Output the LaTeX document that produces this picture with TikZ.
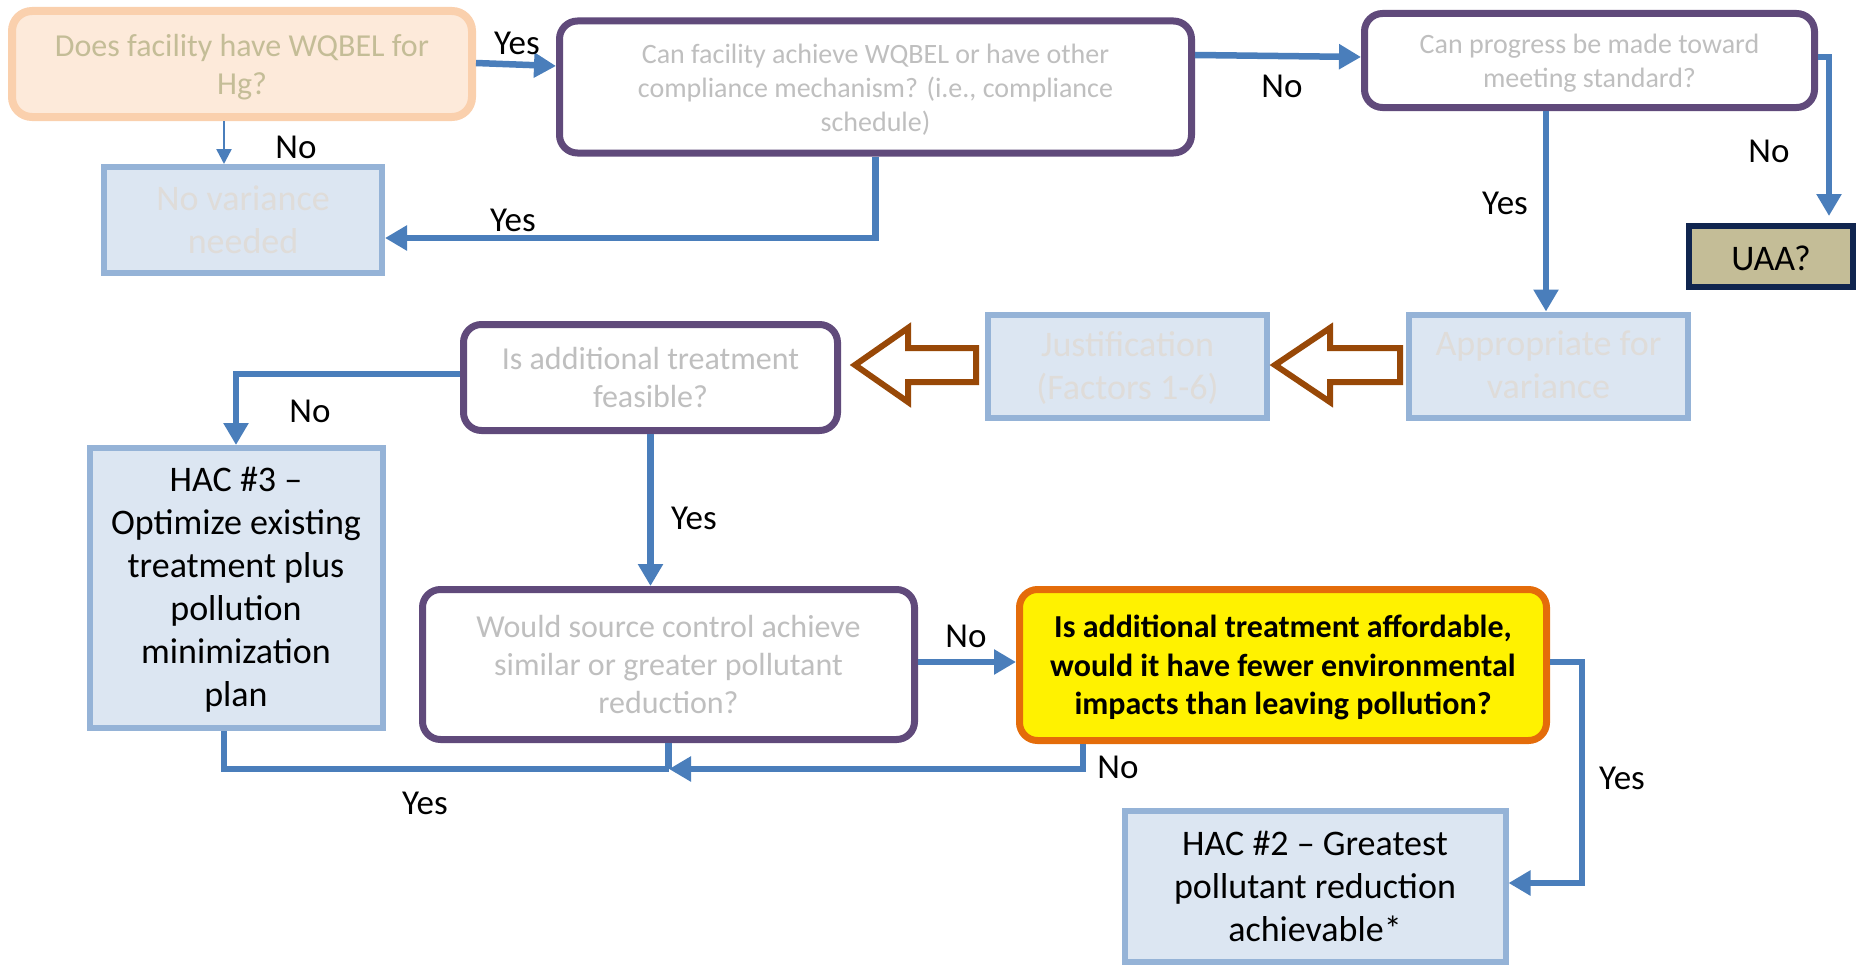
\documentclass[tikz,border=0pt]{standalone}
\usepackage{fontspec}
\setmainfont{Carlito}
\usetikzlibrary{arrows.meta}
\definecolor{cblue}{HTML}{4A7EBB}
\definecolor{qpurple}{HTML}{604A7B}
\definecolor{qgray}{HTML}{BFBFBF}
\definecolor{afill}{HTML}{FDEADA}
\definecolor{adraw}{HTML}{FAD0AD}
\definecolor{atext}{HTML}{C4BD97}
\definecolor{bfill}{HTML}{DCE6F2}
\definecolor{bdraw}{HTML}{95B3D7}
\definecolor{btext}{HTML}{DFDCD9}
\definecolor{ydraw}{HTML}{E46C0A}
\definecolor{udraw}{HTML}{10254F}
\definecolor{hbrown}{HTML}{984807}
\newcommand\mylow[2]{\raisebox{-#1}[\height][\depth]{\begin{tabular}{@{}c@{}}#2\end{tabular}}}
\tikzset{
  q/.style={draw=qpurple, line width=7pt, rounded corners=18pt, fill=white, text=qgray,
    align=center, inner sep=0pt, font=\fontsize{28}{34}\selectfont},
  qb/.style={q, font=\fontsize{32}{38}\selectfont},
  qa/.style={draw=adraw, line width=8pt, rounded corners=20pt, fill=afill, text=atext,
    align=center, inner sep=0pt, font=\fontsize{32}{38}\selectfont},
  bb/.style={draw=bdraw, line width=6pt, fill=bfill, align=center, inner sep=0pt,
    font=\fontsize{36}{43}\selectfont},
  bfaint/.style={bb, text=btext},
  ybox/.style={draw=ydraw, line width=7pt, rounded corners=18pt, fill=yellow, text=black,
    align=center, inner sep=0pt, font=\fontsize{32}{38.5}\selectfont\bfseries},
  uaa/.style={draw=udraw, line width=6pt, fill=atext, text=black, inner sep=0pt,
    font=\fontsize{36}{43}\selectfont},
  conn/.style={draw=cblue, line width=6.5pt, -{Triangle[length=22pt,width=24pt]}},
  thinconn/.style={draw=cblue, line width=2.5pt, -{Triangle[length=15pt,width=15pt]}},
  plainline/.style={draw=cblue, line width=6.5pt},
  lbl/.style={font=\fontsize{35}{42}\selectfont, text=black, inner sep=0pt},
  harrow/.style={draw=hbrown, fill=white, line width=6pt, line join=miter},
}
\begin{document}
\begin{tikzpicture}[x=1pt,y=-1pt]
\useasboundingbox (0,0) rectangle (1856,966);
% nodes
\node[qa, minimum width=460pt, minimum height=106pt] (A) at (242,64) {\mylow{3.5pt}{Does facility have WQBEL for\\Hg?}};
\node[q, minimum width=632pt, minimum height=132pt] (B) at (875.5,87) {\mylow{3.5pt}{Can facility achieve WQBEL or have other\\compliance mechanism? (i.e., compliance\\schedule)}};
\node[q, minimum width=450pt, minimum height=94pt] (C) at (1589.5,60.5) {\mylow{3pt}{Can progress be made toward\\meeting standard?}};
\node[uaa, minimum width=164pt, minimum height=61pt] (U) at (1771,256.5) {\raisebox{-1.5pt}[\height][\depth]{UAA?}};
\node[bfaint, minimum width=278pt, minimum height=106pt] (NV) at (243,220) {No variance\\needed};
\node[bfaint, minimum width=279pt, minimum height=103pt] (App) at (1548.5,366) {\mylow{2.5pt}{Appropriate for\\variance}};
\node[bfaint, minimum width=279pt, minimum height=103pt] (J) at (1127.5,366.5) {\mylow{2.5pt}{Justification\\(Factors 1-6)}};
\node[qb, minimum width=374pt, minimum height=106pt] (IA) at (650.5,377.5) {Is additional treatment\\feasible?};
\node[bb, minimum width=293pt, minimum height=280pt] (H3) at (236,588) {\mylow{2.5pt}{HAC \#3 --\\Optimize existing\\treatment plus\\pollution\\minimization\\plan}};
\node[qb, minimum width=492pt, minimum height=150pt] (WS) at (668.5,664.5) {Would source control achieve\\similar or greater pollutant\\reduction?};
\node[ybox, minimum width=527pt, minimum height=151pt] (Y) at (1283,665) {\mylow{3.5pt}{Is additional treatment affordable,\\would it have fewer environmental\\impacts than leaving pollution?}};
\node[bb, minimum width=381pt, minimum height=151pt] (H2) at (1315,886.5) {HAC \#2 -- Greatest\\pollutant reduction\\achievable*};
% hollow block arrows
\draw[harrow] (855,365) -- (908,328) -- (908,348) -- (976,348) -- (976,382) -- (908,382) -- (908,402) -- cycle;
\draw[harrow] (1275,365) -- (1330,328) -- (1330,348) -- (1400,348) -- (1400,382) -- (1330,382) -- (1330,402) -- cycle;
% connectors
\draw[conn] ([yshift=1pt]A.east) -- ([yshift=-2pt]A.east -| B.west);
\draw[thinconn] ([xshift=-18pt]A.south) -- ([xshift=-18pt]A.south |- NV.north);
\draw[conn] (B.south) |- ([yshift=-18pt]NV.east);
\draw[conn] ([yshift=32pt]B.east) -- ([yshift=3.5pt]C.west);
\draw[conn] ([xshift=-2.5pt]App.north |- C.south) -- ([xshift=-2.5pt]App.north);
\draw[conn] ([yshift=3.5pt]C.east) -| ([xshift=58pt,yshift=7pt]U.north);
\draw[conn] ([yshift=3.5pt]IA.west) -| (H3.north);
\draw[conn] (IA.south) -- (IA.south |- WS.north);
\draw[conn] ([yshift=2.5pt]WS.east) -- ([yshift=2.5pt]WS.east -| Y.west);
\coordinate (M) at (669,769);
\draw[plainline] (WS.south) -- (WS.south |- M);
\draw[plainline] ([xshift=-12pt]H3.south) |- (M);
\draw[conn] ([xshift=-200pt]Y.south) |- (M);
\draw[conn] ([yshift=3pt]Y.east) -- ++(32pt,0) |- ([yshift=3.5pt]H2.east);
% labels
\node[lbl] (l1) at (517,43) {Yes};
\node[lbl] (l2) at (296,147) {No};
\node[lbl] (l3) at (513,220) {Yes};
\node[lbl] (l4) at (1282,86) {No};
\node[lbl] (l5) at (1505,203) {Yes};
\node[lbl] (l6) at (1769,151) {No};
\node[lbl] (l7) at (310,411) {No};
\node[lbl] (l8) at (694,518) {Yes};
\node[lbl] (l9) at (966,636) {No};
\node[lbl] (l10) at (1118,767) {No};
\node[lbl] (l11) at (425,803) {Yes};
\node[lbl] (l12) at (1622,778) {Yes};
\end{tikzpicture}
\end{document}
